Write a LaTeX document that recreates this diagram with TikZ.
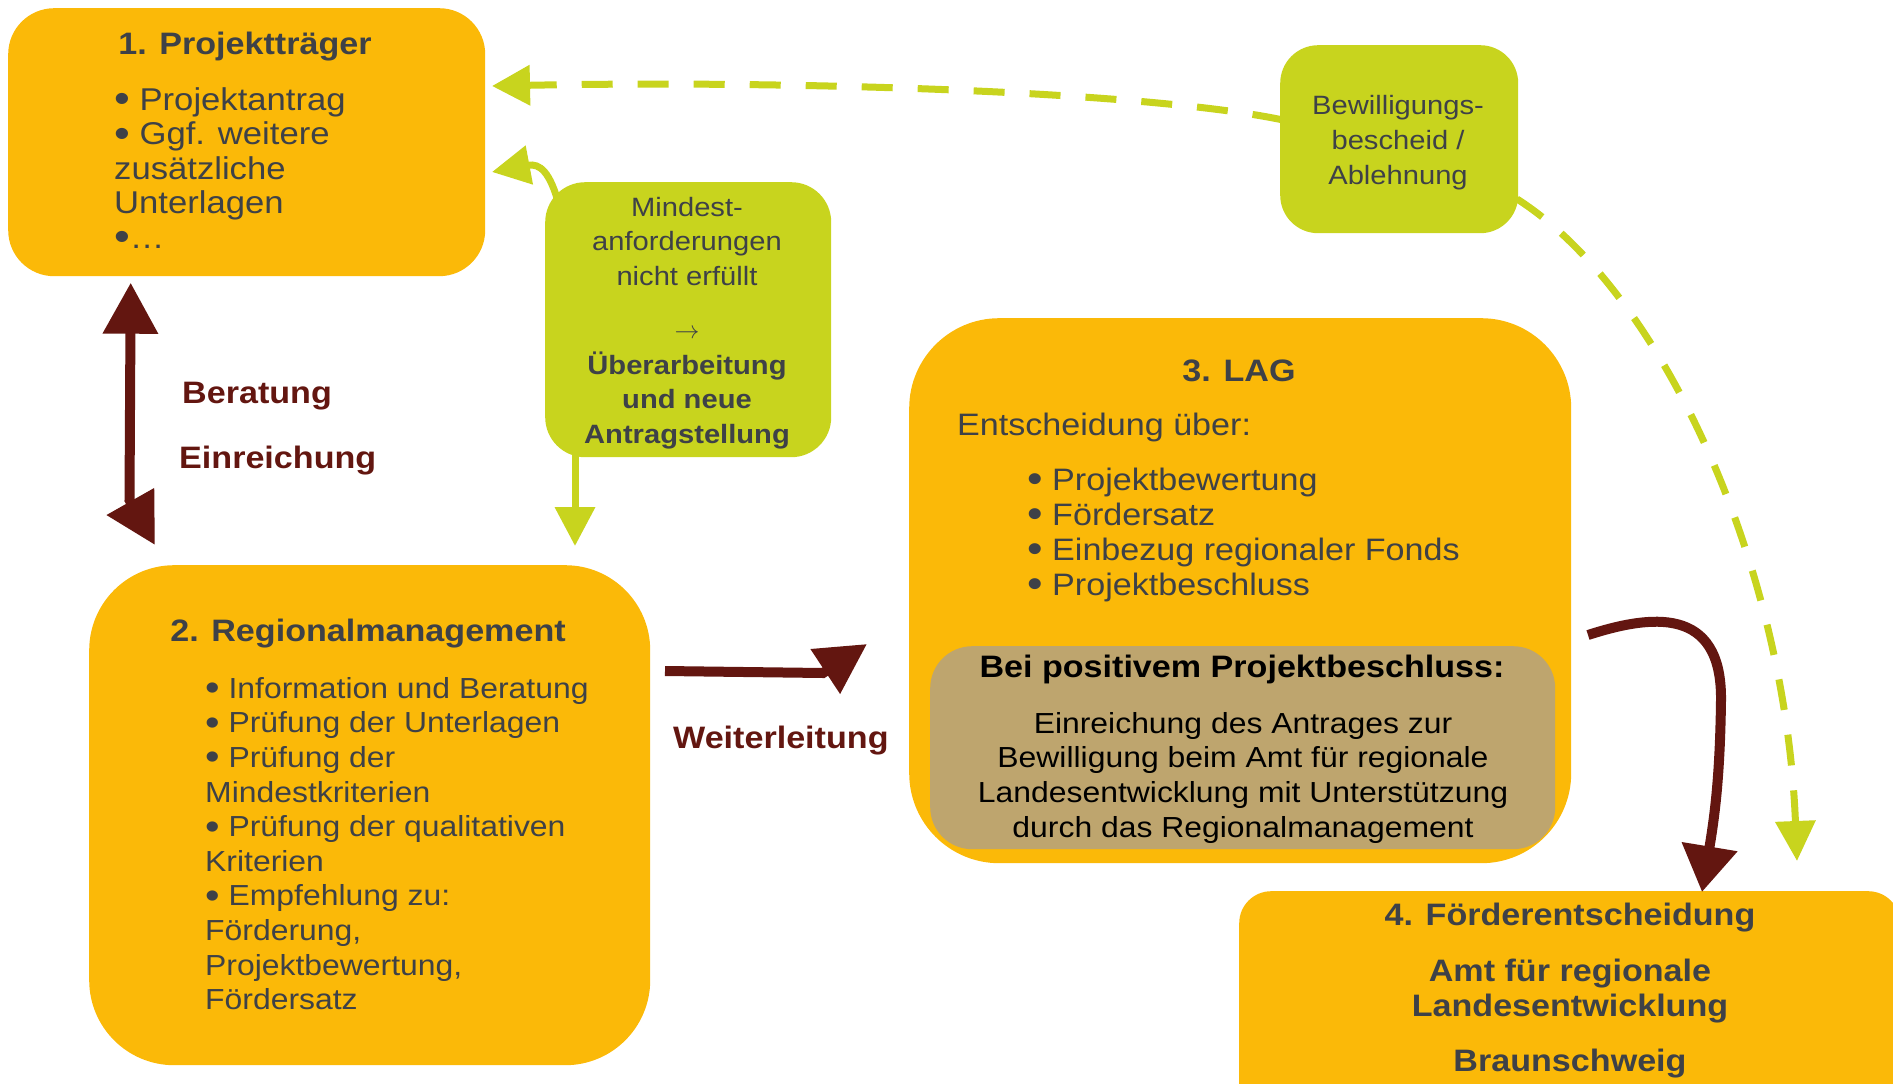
\documentclass[tikz,border=0pt]{standalone}
\usepackage{fontspec}
\setmainfont[FakeStretch=1.1]{Liberation Sans}
\usetikzlibrary{arrows.meta}
\definecolor{orangeC}{HTML}{FBB908}
\definecolor{greenC}{HTML}{C8D41E}
\definecolor{tanC}{HTML}{BEA56E}
\definecolor{redC}{HTML}{631610}
\definecolor{textC}{HTML}{3E4147}
\newcommand\fsz[2]{\fontsize{#1}{#2}\selectfont}
\newcommand\bul{\raisebox{-2.5pt}{\scalebox{1.3}{•}}}
\begin{document}
\begin{tikzpicture}[x=1pt,y=-1pt,
  obox/.style={fill=orangeC, draw=none, inner sep=0pt, anchor=north west},
  gbox/.style={fill=greenC, draw=none, inner sep=0pt, anchor=north west},
  tbox/.style={fill=tanC, draw=none, inner sep=0pt, anchor=north west},
  txt/.style={inner sep=0pt, text=textC},
  ttl/.style={txt, font=\bfseries\fsz{31}{35}},
  lbl/.style={inner sep=0pt, text=redC, font=\bfseries\fsz{31}{35}},
  redline/.style={draw=redC, line width=10pt},
  greenline/.style={draw=greenC, line width=7pt},
  dashline/.style={greenline, dash pattern=on 31pt off 25pt}
]
\useasboundingbox (0,0) rectangle (1893,1084);

% boxes
\node[obox, rounded corners=46pt, minimum width=477pt, minimum height=268pt] (b1) at (8,8) {};
\node[gbox, rounded corners=40pt, minimum width=286pt, minimum height=275pt] (g1) at (545,182) {};
\node[gbox, rounded corners=38pt, minimum width=238pt, minimum height=188pt] (g2) at (1280,45) {};
\node[obox, rounded corners=90pt, minimum width=662pt, minimum height=545pt] (b3) at (909,318) {};
\node[tbox, rounded corners=42pt, minimum width=625pt, minimum height=203pt] (b3t) at (930,646) {};
\node[obox, rounded corners=85pt, minimum width=561pt, minimum height=500pt] (b2) at (89,565) {};
\node[obox, rounded corners=32pt, minimum width=661pt, minimum height=240pt] (b4) at (1239,891) {};

% box 1 text
\node[ttl, anchor=base] (t1) at (245,54) {1. Projektträger};
\node[txt, font=\fsz{31.5}{34.5}, anchor=north west, align=left] (l1) at (114,85.85)
  {\strut\bul{} Projektantrag\\\bul{} Ggf. weitere\\zusätzliche\\Unterlagen\\\bul…};

% green box texts
\node[txt, font=\fsz{26.5}{34.5}, anchor=north, align=center] (gt1) at (687,191.85)
  {\strut Mindest-\\anforderungen\\nicht erfüllt\\[18.5pt]$\rightarrow$\\[1.5pt]\textbf{Überarbeitung}\\\textbf{und neue}\\\textbf{Antragstellung}};
\node[txt, font=\fsz{26.5}{35}, anchor=north, align=center] (gt2) at (1398,89.5)
  {\strut Bewilligungs-\\bescheid /\\Ablehnung};

% box 3 text
\node[ttl, anchor=base] (t3) at (1239,381) {3. LAG};
\node[txt, font=\fsz{31}{35}, anchor=base west] (e3) at (957,435) {Entscheidung über:};
\node[txt, font=\fsz{31}{35}, anchor=north west, align=left] (l3) at (1027,465.5)
  {\strut\bul{} Projektbewertung\\\bul{} Fördersatz\\\bul{} Einbezug regionaler Fonds\\\bul{} Projektbeschluss};
\node[inner sep=0pt, text=black, font=\bfseries\fsz{31}{35}, anchor=base] (tt) at (1242,677) {Bei positivem Projektbeschluss:};
\node[inner sep=0pt, text=black, font=\fsz{29}{34.7}, anchor=north, align=center] (lt) at (1243,708.7)
  {\strut Einreichung des Antrages zur\\Bewilligung beim Amt für regionale\\Landesentwicklung mit Unterstützung\\durch das Regionalmanagement};

% box 2 text
\node[ttl, anchor=base] (t2) at (368,641) {2. Regionalmanagement};
\node[txt, font=\fsz{29}{34.6}, anchor=north west, align=left] (l2) at (205,673.8)
  {\strut\bul{} Information und Beratung\\\bul{} Prüfung der Unterlagen\\\bul{} Prüfung der\\Mindestkriterien\\\bul{} Prüfung der qualitativen\\Kriterien\\\bul{} Empfehlung zu:\\Förderung,\\Projektbewertung,\\Fördersatz};

% box 4 text
\node[ttl, anchor=base] (t4) at (1570,925) {4. Förderentscheidung};
\node[ttl, anchor=north, align=center] (l4) at (1570,956.5)
  {\strut Amt für regionale\\Landesentwicklung\\[20pt]Braunschweig};

% labels
\node[lbl, anchor=base west] (lb1) at (182,403) {Beratung};
\node[lbl, anchor=base west] (lb2) at (179,468) {Einreichung};
\node[lbl, anchor=base west] (lb3) at (673,748) {Weiterleitung};

% connector end points
\coordinate (a1s) at (130.7,282.7);
\coordinate (a1e) at (155,545);
\coordinate (wa) at (665,671);
\coordinate (wb) at (867,644);
\coordinate (ca) at (1588,635);
\coordinate (cb) at (1702,892);
\coordinate (ga) at (559,205);
\coordinate (gb) at (492,172);
\coordinate (gc) at (575,450);
\coordinate (gd) at (575,546);
\coordinate (da) at (1283,120);
\coordinate (db) at (492,86);
\coordinate (dc) at (1517,199);
\coordinate (dd) at (1797,861);

% dark red arrows
\draw[redline, {Triangle[length=51pt,width=53pt]}-{Triangle[length=50pt,width=52pt]}]
  (a1s) -- (129.5,500) -- (a1e);
\draw[redline, -{Triangle[length=50pt,width=51pt]}]
  (wa) -- (823,673) -- (wb);
\draw[redline, -{Triangle[length=46pt,width=54pt]}]
  (ca) .. controls (1650,615) and (1722,605) .. (1721,700)
       .. controls (1720,780) and (1714,820) .. (cb);

% green arrows
\draw[greenline, -{Triangle[length=38pt,width=38pt]}]
  (ga) .. controls (550,172) and (540,163) .. (gb);
\draw[greenline, -{Triangle[length=39pt,width=39pt]}] (gc) -- (gd);
\draw[dashline, -{Triangle[length=38pt,width=39pt]}]
  (da) .. controls (1150,92) and (800,80) .. (db);
\draw[dashline, -{Triangle[length=40pt,width=39pt]}]
  (dc) .. controls (1660,290) and (1785,560) .. (dd);
\end{tikzpicture}
\end{document}
